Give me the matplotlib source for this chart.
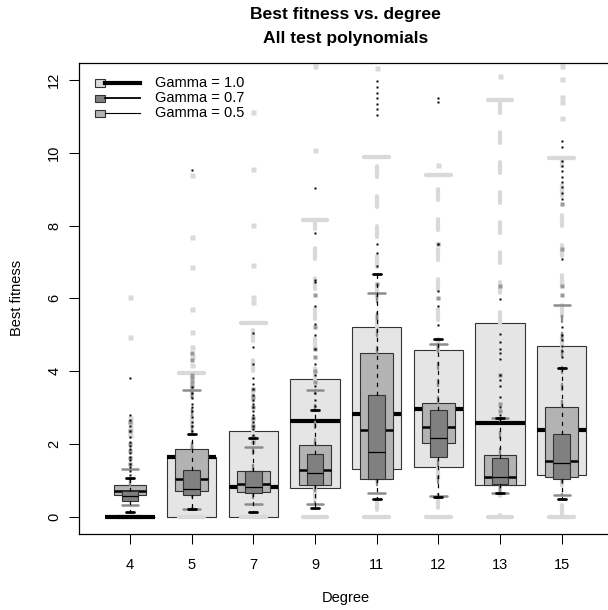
import matplotlib
matplotlib.use('Agg')
import matplotlib.pyplot as plt
from matplotlib.patches import Rectangle
from matplotlib.lines import Line2D

plt.rcParams['font.family'] = ['Liberation Sans', 'DejaVu Sans']

degrees = ['4', '5', '7', '9', '11', '12', '13', '15']

# Gamma = 1.0 (wide light boxes)
g10_lo = [0, 0, 0, 0, 0, 0, 0, 0]
g10_q1 = [0, 0, 0, 0.79, 1.32, 1.35, 0.87, 1.14]
g10_med = [0, 1.64, 0.80, 2.64, 2.83, 2.96, 2.56, 2.38]
g10_q3 = [0, 1.64, 2.35, 3.78, 5.20, 4.59, 5.32, 4.69]
g10_hi = [0, 3.96, 5.33, 8.15, 9.89, 9.40, 11.46, 9.87]
g10_out = [
    [2.25, 2.4, 2.55, 2.7, 4.94, 6.04],
    [4.18, 4.41, 4.66, 5.08, 5.70, 6.86, 7.69, 9.38],
    [5.90, 6.04, 6.91, 8.01, 9.56, 11.12],
    [10.07, 12.40],
    [12.34],
    [9.66],
    [12.11],
    [10.97, 11.4, 11.55, 12.04, 12.4],
]

# Gamma = 0.7 (medium boxes)
g07_lo = [0.32, 0.20, 0.34, 0.34, 0.66, 0.56, 0.65, 0.59]
g07_q1 = [0.59, 0.70, 0.68, 0.87, 1.02, 2.03, 0.87, 1.08]
g07_med = [0.70, 1.02, 0.89, 1.28, 2.38, 2.47, 1.08, 1.52]
g07_q3 = [0.88, 1.85, 1.26, 1.98, 4.51, 3.13, 1.69, 3.02]
g07_hi = [1.30, 3.49, 1.90, 3.49, 6.16, 4.74, 2.70, 5.83]
g07_out = [
    [1.45, 1.6, 1.8, 2.0, 2.35, 2.6],
    [3.6, 3.7, 3.8, 3.9, 4.3, 4.5],
    [2.05, 2.2, 2.5, 2.7, 3.0, 3.3, 3.5],
    [3.7, 4.0, 4.4, 4.6, 5.2, 6.1],
    [6.4],
    [6.0, 7.5],
    [2.9, 3.1, 3.9, 6.33],
    [6.1, 6.33, 7.37, 8.6],
]

# Gamma = 0.5 (narrow dark boxes)
g05_lo = [0.12, 0.20, 0.13, 0.23, 0.47, 0.54, 0.65, 0.47]
g05_q1 = [0.43, 0.59, 0.64, 0.87, 1.02, 1.64, 0.89, 1.02]
g05_med = [0.56, 0.77, 0.82, 1.20, 1.78, 2.17, 1.10, 1.46]
g05_q3 = [0.70, 1.28, 1.26, 1.72, 3.34, 2.94, 1.60, 2.26]
g05_hi = [1.07, 2.27, 2.15, 2.93, 6.68, 4.87, 2.70, 4.09]
g05_out = [
    [1.15, 1.25, 1.35, 1.45, 1.55, 1.65, 1.75, 1.85, 1.95, 2.05, 2.2,
     2.35, 2.5, 2.65, 2.8, 3.8],
    [2.35, 2.5, 2.6, 2.75, 2.9, 3.0, 3.1, 3.25, 3.4, 3.55, 9.52],
    [2.25, 2.4, 2.5, 2.6, 2.7, 2.8, 2.9, 3.0, 3.1, 3.2, 3.35, 3.5,
     3.65, 3.8, 4.2, 4.67, 5.05],
    [3.05, 3.2, 3.4, 3.6, 3.9, 4.2, 4.6, 5.0, 5.3, 5.8, 6.45, 6.5,
     7.8, 9.03],
    [6.9, 7.25, 7.5, 11.05, 11.2, 11.35, 11.5, 11.65, 11.8, 11.97],
    [5.26, 5.8, 6.2, 7.5, 11.4, 11.52],
    [2.8, 3.02, 3.3, 3.6, 3.75, 3.89, 4.34, 4.5, 4.6, 4.8, 5.03, 5.97],
    [4.4, 4.55, 4.7, 4.85, 5.0, 5.2, 7.07, 8.74, 8.9, 9.05, 9.2, 9.35,
     9.5, 9.65, 9.79, 10.16, 10.32],
]


def make_stats(lo, q1, med, q3, hi, out):
    return [dict(whislo=a, q1=b, med=c, q3=d, whishi=e, fliers=f)
            for a, b, c, d, e, f in zip(lo, q1, med, q3, hi, out)]


fig = plt.figure(figsize=(6.08, 6.10), dpi=100)
# plot region runs a little past the right edge of the picture
ax = fig.add_axes([79.4 / 608, 76 / 610, 532.9 / 608, 471.3 / 610])

pos = list(range(1, len(degrees) + 1))
edge = '#333333'

groups = [
    (make_stats(g10_lo, g10_q1, g10_med, g10_q3, g10_hi, g10_out),
     0.8, '#e5e5e5', '#d9d9d9', 3.0, 3.1, 3.0, '#d9d9d9', 3.6, 2),
    (make_stats(g07_lo, g07_q1, g07_med, g07_q3, g07_hi, g07_out),
     0.533, '#b3b3b3', '#8c8c8c', 1.7, 1.8, 1.8, '#999999', 2.3, 3),
    (make_stats(g05_lo, g05_q1, g05_med, g05_q3, g05_hi, g05_out),
     0.267, '#808080', 'black', 0.9, 2.0, 0.9, 'black', 1.5, 4),
]

for stats, w, fill, wcol, wlw, clw, mlw, fcol, ms, z in groups:
    ax.bxp(stats, positions=pos, widths=w, capwidths=w * 0.5,
           patch_artist=True, manage_ticks=False, zorder=z,
           boxprops=dict(facecolor=fill, edgecolor=edge, linewidth=0.8),
           whiskerprops=dict(color=wcol, linewidth=wlw,
                             linestyle=(0, (2.6, 4.6)),
                             dash_capstyle='round'),
           capprops=dict(color=wcol, linewidth=clw,
                         solid_capstyle='round'),
           medianprops=dict(color='black', linewidth=mlw,
                            solid_capstyle='butt'),
           flierprops=dict(marker='s', markerfacecolor=fcol,
                           markeredgecolor='none', markersize=ms))

ax.set_xlim(0.18, 8.82)
ax.set_ylim(-0.48, 12.48)
ax.set_xticks(pos)
ax.set_xticklabels(degrees)
ax.set_yticks([0, 2, 4, 6, 8, 10, 12])
ax.tick_params(direction='out', length=7, width=0.75, labelsize=10.5)
ax.tick_params(axis='x', pad=10)
ax.tick_params(axis='y', pad=6)
for lbl in ax.get_yticklabels():
    lbl.set_rotation(90)
    lbl.set_va('center')
for sp in ax.spines.values():
    sp.set_linewidth(0.9)

# legend drawn by hand
leg_fill = ['#dcdcdc', '#7f7f7f', '#b3b3b3']
leg_lw = [3.0, 1.3, 0.8]
leg_text = ['Gamma = 1.0', 'Gamma = 0.7', 'Gamma = 0.5']
leg_y = [0.957, 0.925, 0.893]
for fc, lw, txt, yy in zip(leg_fill, leg_lw, leg_text, leg_y):
    ax.add_patch(Rectangle((0.029, yy - 0.0075), 0.019, 0.015,
                           transform=ax.transAxes, facecolor=fc,
                           edgecolor=edge, linewidth=0.8, zorder=6))
    ax.add_line(Line2D([0.048, 0.113], [yy, yy], transform=ax.transAxes,
                       color='black', linewidth=lw, zorder=6))
    ax.text(0.142, yy, txt, transform=ax.transAxes, va='center',
            ha='left', fontsize=10.5, zorder=6)

cx = 345.8 / 608
fig.text(cx, 1 - 14 / 610, 'Best fitness vs. degree', ha='center',
         va='center', fontsize=12.6, fontweight='bold')
fig.text(cx, 1 - 38 / 610, 'All test polynomials', ha='center',
         va='center', fontsize=12.6, fontweight='bold')
fig.text(cx, 1 - 598 / 610, 'Degree', ha='center', va='center',
         fontsize=10.5)
fig.text(17 / 608, 1 - 298 / 610, 'Best fitness', ha='center',
         va='center', rotation=90, fontsize=10.5)

fig.savefig('out.png', dpi=100)
